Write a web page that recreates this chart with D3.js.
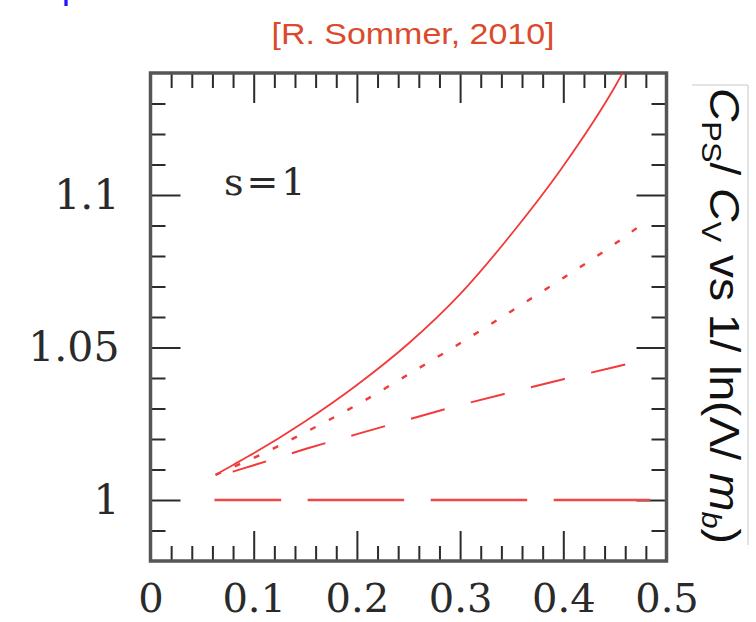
<!DOCTYPE html>
<html>
<head>
<meta charset="utf-8">
<script src="https://cdn.jsdelivr.net/npm/d3@7/dist/d3.min.js"></script>
<style>
  html, body { margin: 0; padding: 0; background: #ffffff; }
  svg { display: block; }
</style>
</head>
<body>
<svg id="chart" width="756" height="622"></svg>
<script>
// Ratio C_PS / C_V against 1 / ln(Lambda / m_b), s = 1
const xGrid       = [0.063, 0.08, 0.1, 0.15, 0.2, 0.25, 0.3, 0.35, 0.4, 0.45, 0.4825];
const ratioSolid  = [1.0083, 1.0115, 1.0153, 1.0258, 1.0377, 1.0513, 1.0675, 1.0873, 1.1095, 1.1355, 1.1560];
const ratioDotted = [1.0082, 1.0108, 1.0138, 1.0222, 1.0312, 1.0412, 1.0514, 1.0620, 1.0728, 1.0840, 1.0920];
const ratioDashed = [1.0075, 1.0093, 1.0114, 1.0167, 1.0216, 1.0264, 1.0311, 1.0354, 1.0396, 1.0436, 1.0463];
const flatX       = [0.062, 0.4845];
const ratioFlat   = [1, 1];

const xTickLabels = ["0", "0.1", "0.2", "0.3", "0.4", "0.5"];
const xTickValues = [0, 0.1, 0.2, 0.3, 0.4, 0.5];
const yTickLabels = ["1", "1.05", "1.1"];
const yTickValues = [1, 1.05, 1.1];

const titleText = "[R. Sommer, 2010]";
const panelText = "s=1";

const svg = d3.select("#chart");

const pLeft = 150.5, pRight = 666.5, pTop = 73, pBottom = 561;
const x = d3.scaleLinear().domain([0, 0.5]).range([pLeft, pRight]);
const y = d3.scaleLinear().domain([0.98, 1.14]).range([pBottom, pTop]);

// tail of the slide heading above the figure
svg.append("text")
  .attr("x", 61).attr("y", -1)
  .attr("font-family", "'DejaVu Sans', sans-serif")
  .attr("font-size", 36)
  .attr("fill", "#1a1aff")
  .text("p");

// title
svg.append("text")
  .attr("x", 413).attr("y", 44)
  .attr("text-anchor", "middle")
  .attr("font-family", "'Liberation Sans Narrow', 'Liberation Sans', sans-serif")
  .attr("font-size", 30)
  .attr("fill", "#dc4a2c")
  .attr("textLength", 283)
  .attr("lengthAdjust", "spacingAndGlyphs")
  .text(titleText);

// clip region for the curves
svg.append("defs").append("clipPath").attr("id", "plotClip")
  .append("rect")
  .attr("x", pLeft).attr("y", pTop)
  .attr("width", pRight - pLeft).attr("height", pBottom - pTop);

// ticks, inward on all four sides
const xMajor = [0.1, 0.2, 0.3, 0.4];
const xMinor = d3.range(1, 25).map(i => i * 0.02).filter(v => !xMajor.some(m => Math.abs(m - v) < 1e-9));
const yMajor = [1, 1.05, 1.1];
const yMinor = d3.range(1, 16).map(i => 0.98 + i * 0.01).filter(v => !yMajor.some(m => Math.abs(m - v) < 1e-9));

function tickGroup(axis, tx, ty) {
  const g = svg.append("g").attr("transform", `translate(${tx},${ty})`).call(axis);
  g.select(".domain").remove();
  g.selectAll("text").remove();
  g.selectAll("line").attr("stroke", "#2b2b2b").attr("stroke-width", 2);
  return g;
}
const majorLen = 30, minorLen = 15;
tickGroup(d3.axisBottom(x).tickValues(xMajor).tickSize(-majorLen), 0, pBottom);
tickGroup(d3.axisBottom(x).tickValues(xMinor).tickSize(-minorLen), 0, pBottom);
tickGroup(d3.axisTop(x).tickValues(xMajor).tickSize(-majorLen), 0, pTop);
tickGroup(d3.axisTop(x).tickValues(xMinor).tickSize(-minorLen), 0, pTop);
tickGroup(d3.axisLeft(y).tickValues(yMajor).tickSize(-majorLen), pLeft, 0);
tickGroup(d3.axisLeft(y).tickValues(yMinor).tickSize(-minorLen), pLeft, 0);
tickGroup(d3.axisRight(y).tickValues(yMajor).tickSize(-majorLen), pRight, 0);
tickGroup(d3.axisRight(y).tickValues(yMinor).tickSize(-minorLen), pRight, 0);

// frame
svg.append("rect")
  .attr("x", pLeft).attr("y", pTop)
  .attr("width", pRight - pLeft).attr("height", pBottom - pTop)
  .attr("fill", "none").attr("stroke", "#555").attr("stroke-width", 3.5);

// tick labels
const labelFont = "'DejaVu Serif', 'Liberation Serif', serif";
const xLab = svg.append("g").attr("transform", `translate(0,${pBottom})`)
  .call(d3.axisBottom(x).tickValues(xTickValues).tickSize(0).tickPadding(23)
    .tickFormat((d, i) => xTickLabels[i]));
xLab.select(".domain").remove();
xLab.selectAll("text").attr("font-family", labelFont).attr("font-size", 40).attr("fill", "#2a2a2a");

const yLab = svg.append("g").attr("transform", `translate(${pLeft},0)`)
  .call(d3.axisLeft(y).tickValues(yTickValues).tickSize(0).tickPadding(31)
    .tickFormat((d, i) => yTickLabels[i]));
yLab.select(".domain").remove();
yLab.selectAll("text").attr("font-family", labelFont).attr("font-size", 41).attr("fill", "#2a2a2a");

// panel label
svg.append("text")
  .attr("x", 224).attr("y", 195)
  .attr("font-family", labelFont)
  .attr("font-size", 38)
  .attr("letter-spacing", 3)
  .attr("fill", "#2a2a2a")
  .text(panelText);

// curves
const line = d3.line().x(d => x(d[0])).y(d => y(d[1])).curve(d3.curveMonotoneX);
const plot = svg.append("g").attr("clip-path", "url(#plotClip)");
const red = "#f23a3a";

plot.append("path")
  .attr("d", line(flatX.map((v, i) => [v, ratioFlat[i]])))
  .attr("fill", "none").attr("stroke", "#f04646").attr("stroke-width", 2.6)
  .attr("stroke-dasharray", "96.5,26.5").attr("stroke-dashoffset", 29.8);

plot.append("path")
  .attr("d", line(xGrid.map((v, i) => [v, ratioDashed[i]])))
  .attr("fill", "none").attr("stroke", red).attr("stroke-width", 2)
  .attr("stroke-dasharray", "35,27").attr("stroke-dashoffset", 44);

plot.append("path")
  .attr("d", line(xGrid.map((v, i) => [v, ratioDotted[i]])))
  .attr("fill", "none").attr("stroke", red).attr("stroke-width", 2.4)
  .attr("stroke-dasharray", "6,15");

plot.append("path")
  .attr("d", line(xGrid.map((v, i) => [v, ratioSolid[i]])))
  .attr("fill", "none").attr("stroke", red).attr("stroke-width", 1.8);

// rotated axis caption on the right
svg.append("line").attr("x1", 692).attr("x2", 748).attr("y1", 85).attr("y2", 85)
  .attr("stroke", "#c8c8c8").attr("stroke-width", 1);
svg.append("line").attr("x1", 748).attr("x2", 748).attr("y1", 85).attr("y2", 545)
  .attr("stroke", "#c8c8c8").attr("stroke-width", 1);

const cap = svg.append("text")
  .attr("transform", "translate(710,88) rotate(90)")
  .attr("font-family", "'Liberation Sans Narrow', 'Liberation Sans', sans-serif")
  .attr("font-size", 42)
  .attr("fill", "#111")
  .attr("textLength", 456)
  .attr("lengthAdjust", "spacingAndGlyphs");
cap.append("tspan").attr("font-style", "italic").text("C");
cap.append("tspan").attr("font-size", 28).attr("dy", 8).text("PS");
cap.append("tspan").attr("dy", -8).text("/ ");
cap.append("tspan").attr("font-style", "italic").text("C");
cap.append("tspan").attr("font-size", 28).attr("dy", 8).text("V");
cap.append("tspan").attr("dy", -8).text(" vs 1/ ln(Λ/ ");
cap.append("tspan").attr("font-style", "italic").text("m");
cap.append("tspan").attr("font-size", 28).attr("font-style", "italic").attr("dy", 8).text("b");
cap.append("tspan").attr("dy", -8).text(")");
</script>
</body>
</html>
